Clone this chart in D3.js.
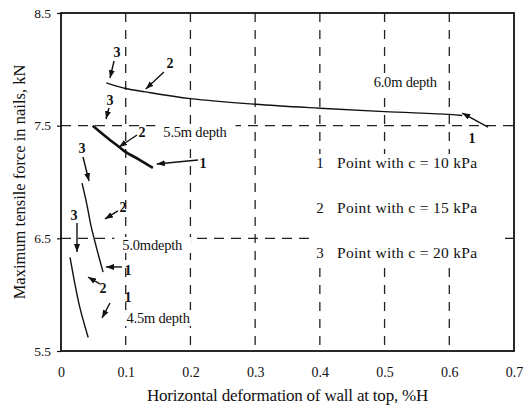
<!DOCTYPE html>
<html>
<head>
<meta charset="utf-8">
<script src="https://cdn.jsdelivr.net/npm/d3@7"></script>
<style>
  body { margin: 0; background: #fff; }
  text { font-family: "Liberation Serif", "Times New Roman", serif; fill: #111; }
</style>
</head>
<body>
<svg id="chart" width="524" height="407"></svg>
<script>
// axis ticks
const xTicks = [0, 0.1, 0.2, 0.3, 0.4, 0.5, 0.6, 0.7];
const yTicks = [5.5, 6.5, 7.5, 8.5];
const xGrid = [0.1, 0.2, 0.3, 0.4, 0.5, 0.6];
const yGrid = [6.5, 7.5];

// curves: deformation (%H) vs max nail force (kN)
const defl60 = [0.07, 0.10, 0.13, 0.20, 0.30, 0.40, 0.50, 0.60, 0.62];
const force60 = [7.88, 7.83, 7.80, 7.74, 7.69, 7.655, 7.625, 7.60, 7.59];
const defl55 = [0.049, 0.070, 0.090, 0.099, 0.122, 0.142];
const force55 = [7.50, 7.40, 7.31, 7.27, 7.195, 7.125];
const defl50 = [0.0325, 0.040, 0.0464, 0.0556, 0.065];
const force50 = [6.99, 6.80, 6.61, 6.40, 6.20];
const defl45 = [0.014, 0.021, 0.029, 0.042];
const force45 = [6.33, 6.11, 5.89, 5.62];

const depthNames = ['6.0m depth', '5.5m depth', '5.0mdepth', '4.5m depth'];
const depthAtX = [0.532, 0.207, 0.141, 0.150];
const depthAtY = [7.888, 7.444, 6.441, 5.793];

// callouts "1", "2", "3" pointing at points on the curves
const calloutText = ['3', '2', '1', '3', '2', '1', '3', '2', '1', '3', '2', '1'];
const calloutX = [0.0866, 0.1685, 0.635, 0.0757, 0.125, 0.2195, 0.0325, 0.0958, 0.1035, 0.020, 0.065, 0.1035];
const calloutY = [8.154, 8.056, 7.391, 7.728, 7.444, 7.169, 7.302, 6.778, 6.219, 6.707, 6.059, 5.979];
const arrowFromX = [0.082, 0.159, 0.660, 0.074, 0.1175, 0.2117, 0.034, 0.088, 0.0943, 0.0247, 0.060, 0.0757];
const arrowFromY = [8.074, 7.976, 7.488, 7.657, 7.417, 7.195, 7.222, 6.743, 6.246, 6.636, 6.095, 5.926];
const arrowToX = [0.0757, 0.131, 0.620, 0.0696, 0.0896, 0.148, 0.0433, 0.068, 0.0696, 0.0247, 0.0417, 0.0634];
const arrowToY = [7.923, 7.825, 7.612, 7.559, 7.311, 7.160, 7.009, 6.672, 6.246, 6.379, 6.157, 5.793];

const legendNums = ['1', '2', '3'];
const legendText = ['Point with c = 10 kPa', 'Point with c = 15 kPa', 'Point with c = 20 kPa'];

const svg = d3.select('#chart');
const x = d3.scaleLinear().domain([0, 0.7]).range([61, 514]);
const y = d3.scaleLinear().domain([5.5, 8.5]).range([351, 13]);

svg.append('defs').append('marker')
  .attr('id', 'arrow').attr('viewBox', '0 0 8 6')
  .attr('refX', 8).attr('refY', 3)
  .attr('markerWidth', 8).attr('markerHeight', 6)
  .attr('markerUnits', 'userSpaceOnUse').attr('orient', 'auto')
  .append('path').attr('d', 'M0,0 L8,3 L0,6 z').attr('fill', '#111');

// dashed grid
const grid = svg.append('g').attr('stroke', '#222').attr('stroke-width', 1.3);
grid.selectAll('.vx').data(xGrid).join('line')
  .attr('x1', d => x(d)).attr('x2', d => x(d))
  .attr('y1', y(8.5)).attr('y2', y(5.5))
  .attr('stroke-dasharray', '9,8');
grid.selectAll('.hy').data(yGrid).join('line')
  .attr('x1', x(0)).attr('x2', x(0.7))
  .attr('y1', d => y(d)).attr('y2', d => y(d))
  .attr('stroke-dasharray', '10,7');

// legend (white block hides the grid behind it)
const leg = svg.append('g');
leg.append('rect').attr('x', 313).attr('y', 154).attr('width', 192).attr('height', 114).attr('fill', '#fff');
legendNums.forEach((n, i) => {
  const ly = 163 + i * 45;
  leg.append('text').attr('x', 320).attr('y', ly).attr('dy', '0.35em')
    .attr('text-anchor', 'middle').attr('font-size', 15).text(n);
  leg.append('text').attr('x', 337).attr('y', ly).attr('dy', '0.35em')
    .attr('font-size', 15.5).attr('letter-spacing', 0.3).text(legendText[i]);
});

// depth labels with white background
const dl = svg.append('g').selectAll('g').data(depthNames).join('g');
dl.append('text')
  .attr('x', (d, i) => x(depthAtX[i])).attr('y', (d, i) => y(depthAtY[i]))
  .attr('dy', '0.35em').attr('text-anchor', 'middle')
  .attr('font-size', 14.5).attr('letter-spacing', -0.2)
  .text(d => d);
dl.each(function() {
  const g = d3.select(this);
  const b = g.select('text').node().getBBox();
  g.insert('rect', 'text').attr('x', b.x - 8).attr('y', b.y).attr('width', b.width + 16)
    .attr('height', b.height).attr('fill', '#fff');
});

// frame and axes
svg.append('rect').attr('x', x(0)).attr('y', y(8.5))
  .attr('width', x(0.7) - x(0)).attr('height', y(5.5) - y(8.5))
  .attr('fill', 'none').attr('stroke', '#111').attr('stroke-width', 1.8);

const xAxis = svg.append('g').attr('transform', `translate(0,${y(5.5)})`)
  .call(d3.axisBottom(x).tickValues(xTicks).tickSize(0).tickPadding(16)
    .tickFormat(d => d === 0 ? '0' : d3.format('.1f')(d)));
xAxis.select('.domain').remove();
xAxis.selectAll('text').attr('font-size', 14).attr('font-family', '"Liberation Serif", serif').attr('fill', '#111');

const yAxis = svg.append('g').attr('transform', `translate(${x(0)},0)`)
  .call(d3.axisLeft(y).tickValues(yTicks).tickSize(4).tickPadding(6).tickFormat(d3.format('.1f')));
yAxis.select('.domain').remove();
yAxis.selectAll('line').attr('stroke', '#111').attr('stroke-width', 1.2);
yAxis.selectAll('text').attr('font-size', 13.5).attr('font-family', '"Liberation Serif", serif').attr('fill', '#111');

// curves
const curves = [
  [defl60, force60, 1.4],
  [defl55, force55, 2.6],
  [defl50, force50, 1.4],
  [defl45, force45, 1.4]
];
svg.append('g').selectAll('path').data(curves).join('path')
  .attr('d', c => d3.line().x(d => x(d[0])).y(d => y(d[1])).curve(d3.curveCatmullRom)(d3.zip(c[0], c[1])))
  .attr('fill', 'none').attr('stroke', '#111').attr('stroke-width', c => c[2]);

// callout arrows and numbers
const co = svg.append('g');
co.selectAll('line').data(calloutText).join('line')
  .attr('x1', (d, i) => x(arrowFromX[i])).attr('y1', (d, i) => y(arrowFromY[i]))
  .attr('x2', (d, i) => x(arrowToX[i])).attr('y2', (d, i) => y(arrowToY[i]))
  .attr('stroke', '#111').attr('stroke-width', 1.4).attr('marker-end', 'url(#arrow)');
co.selectAll('text').data(calloutText).join('text')
  .attr('x', (d, i) => x(calloutX[i])).attr('y', (d, i) => y(calloutY[i]))
  .attr('dy', '0.35em').attr('text-anchor', 'middle')
  .attr('font-size', 14).attr('font-weight', 'bold').text(d => d);

// axis titles
svg.append('text').attr('x', (x(0) + x(0.7)) / 2).attr('y', 395).attr('dy', '0.35em')
  .attr('text-anchor', 'middle').attr('font-size', 17).attr('letter-spacing', -0.2)
  .text('Horizontal deformation of wall at top, %H');
svg.append('text').attr('transform', `translate(19,${(y(5.5) + y(8.5)) / 2}) rotate(-90)`)
  .attr('dy', '0.35em').attr('text-anchor', 'middle').attr('font-size', 16.5)
  .text('Maximum tensile force in nails, kN');
</script>
</body>
</html>
